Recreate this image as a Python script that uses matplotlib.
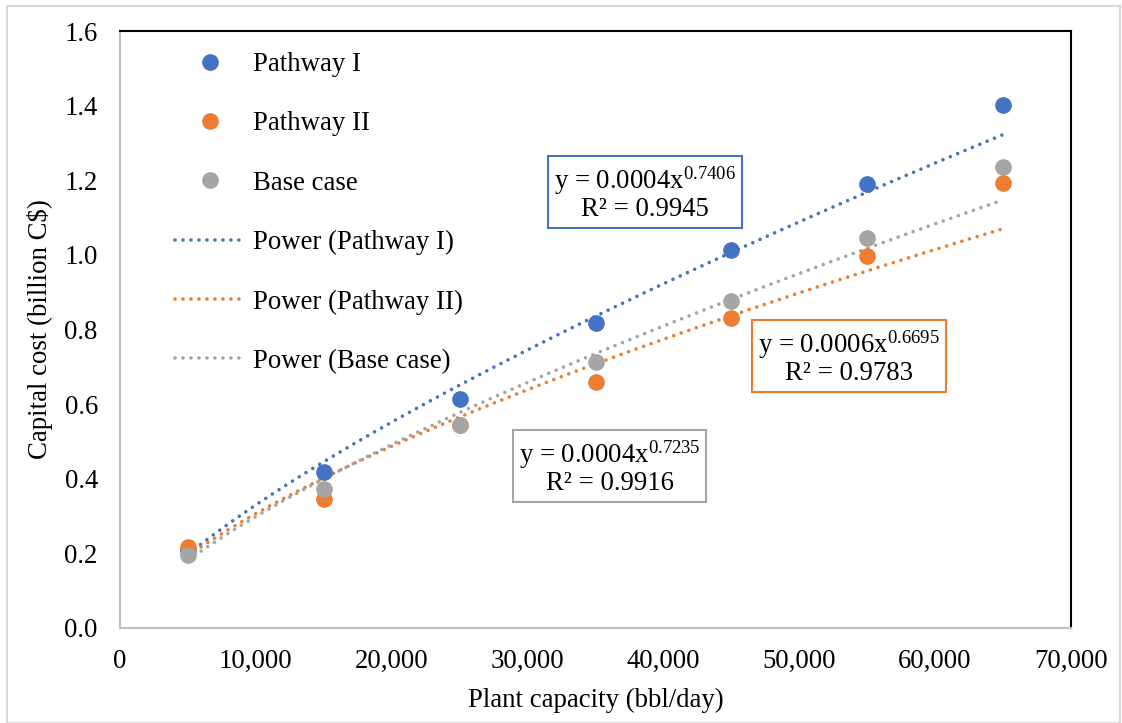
import matplotlib
matplotlib.use('Agg')

import matplotlib.pyplot as plt
import numpy as np
from matplotlib.patches import Rectangle
from matplotlib.ticker import FuncFormatter

plt.rcParams['font.family'] = ['Liberation Serif', 'DejaVu Serif']
plt.rcParams['mathtext.fontset'] = 'custom'
plt.rcParams['mathtext.rm'] = 'Liberation Serif'

capacity = [5000, 15000, 25000, 35000, 45000, 55000, 65000]
pathway_1 = [0.210, 0.418, 0.614, 0.818, 1.012, 1.190, 1.403]
pathway_2 = [0.217, 0.345, 0.545, 0.660, 0.832, 0.998, 1.193]
base_case = [0.195, 0.372, 0.543, 0.712, 0.876, 1.045, 1.236]

series_names = ['Pathway I', 'Pathway II', 'Base case']
colors = ['#4472C4', '#ED7D31', '#A5A5A5']
eq_labels = [('y = 0.0004x$\\mathregular{^{0.7406}}$', 'R² = 0.9945'),
             ('y = 0.0006x$\\mathregular{^{0.6695}}$', 'R² = 0.9783'),
             ('y = 0.0004x$\\mathregular{^{0.7235}}$', 'R² = 0.9916')]
eq_pos = [(38650, 1.166), (53650, 0.725), (36050, 0.431)]

FS = 19.3

fig = plt.figure(figsize=(11.22, 7.23), dpi=100)
ax = fig.add_axes([0.107, 0.1314, 0.8475, 0.8256])

# outer frame of the chart area
fig.patches.append(Rectangle((7 / 1122, 0), 1113 / 1122, 717 / 723, transform=fig.transFigure,
                             fill=False, edgecolor='#d9d9d9', linewidth=1.5))

x = np.array(capacity, dtype=float)
data = [pathway_1, pathway_2, base_case]

point_handles = []
for name, vals, c in zip(series_names, data, colors):
    h, = ax.plot(x, vals, linestyle='none', marker='o', markersize=11,
                 color=c, label=name, zorder=3)
    point_handles.append(h)

line_handles = []
for name, vals, c in zip(series_names, data, colors):
    b, ln_a = np.polyfit(np.log(x), np.log(vals), 1)
    xs = np.linspace(x.min(), x.max(), 200)
    h, = ax.plot(xs, np.exp(ln_a) * xs ** b, color=c, linewidth=2.6,
                 linestyle=(0, (0.01, 2.2)), dash_capstyle='round',
                 label='Power (%s)' % name, zorder=2)
    line_handles.append(h)

for (l1, l2), (px, py), c in zip(eq_labels, eq_pos, colors):
    ax.text(px, py, l1 + '\n' + l2, ha='center', va='center', fontsize=FS,
            linespacing=1.0, zorder=4,
            bbox=dict(boxstyle='square,pad=0.22', facecolor='white', edgecolor=c, linewidth=1.5))

ax.set_xlim(0, 70000)
ax.set_ylim(0, 1.6)
ax.set_xticks(np.arange(0, 70001, 10000))
ax.set_yticks(np.arange(0, 1.61, 0.2))
ax.xaxis.set_major_formatter(FuncFormatter(lambda v, p: '{:,.0f}'.format(v)))
ax.yaxis.set_major_formatter(FuncFormatter(lambda v, p: '{:.1f}'.format(v)))
ax.tick_params(axis='both', length=0, labelsize=FS)
ax.tick_params(axis='x', pad=15)
ax.tick_params(axis='y', pad=16)

for side in ['left', 'bottom']:
    ax.spines[side].set_color('#bfbfbf')
    ax.spines[side].set_linewidth(1.5)
for side in ['top', 'right']:
    ax.spines[side].set_color('black')
    ax.spines[side].set_linewidth(1.5)

ax.set_xlabel('Plant capacity (bbl/day)', fontsize=FS, labelpad=10)
ax.set_ylabel('Capital cost (billion C$)', fontsize=FS, labelpad=8)

ax.legend(handles=point_handles + line_handles, loc='upper left',
          bbox_to_anchor=(0.058, 0.965), frameon=False, fontsize=FS,
          borderpad=0, borderaxespad=0, handlelength=2.6, handletextpad=0.3,
          labelspacing=1.28)

fig.savefig('out.png', dpi=100)
